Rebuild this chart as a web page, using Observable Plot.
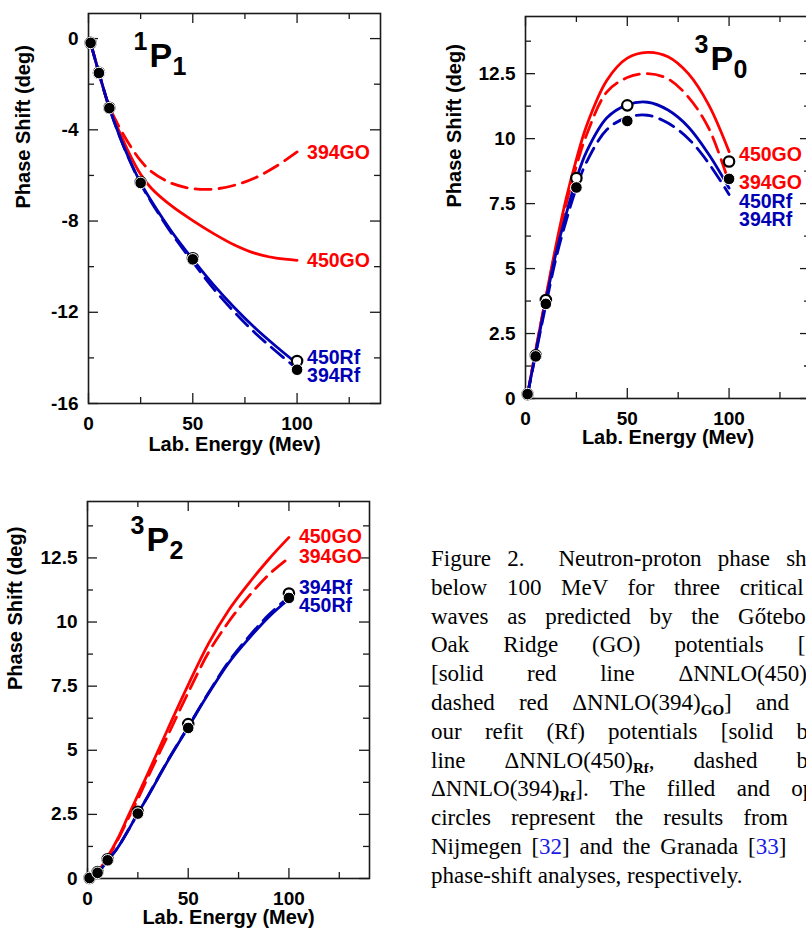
<!DOCTYPE html>
<html><head><meta charset="utf-8">
<script src="https://cdn.jsdelivr.net/npm/d3@7"></script>
<script src="https://cdn.jsdelivr.net/npm/@observablehq/plot@0.6"></script>
<style>
html,body{margin:0;padding:0;background:#fff;}
#page{position:relative;width:806px;height:932px;overflow:hidden;background:#fff;}
.panel{position:absolute;}
.panel svg{overflow:visible;max-width:none !important;}
#caption{position:absolute;left:431px;top:545px;font-family:"Liberation Serif","Times New Roman",serif;font-size:23px;line-height:28.8px;color:#000;}
#caption .ln{width:405px;text-align:justify;text-align-last:justify;}
#caption .last{text-align:left;text-align-last:left;}
#caption .nl{text-align:left;text-align-last:left;word-spacing:4px;}
#caption sub{font-size:15px;font-weight:bold;vertical-align:-5px;line-height:0;}
#caption .c{color:#1a1ae6;}
#caption .gap{display:inline-block;width:18px;}
</style></head><body>
<div id="page">
  <div id="p1" class="panel" style="left:0;top:0"></div>
  <div id="p2" class="panel" style="left:400px;top:0;width:430px"></div>
  <div id="p3" class="panel" style="left:0;top:470px"></div>
  <div id="caption">
    <div class="ln">Figure 2.<span class="gap"></span> Neutron-proton phase shifts</div>
    <div class="ln">below 100 MeV for three critical P</div>
    <div class="ln">waves as predicted by the Gőteborg–</div>
    <div class="ln">Oak Ridge (GO) potentials [30]</div>
    <div class="ln">[solid red line ΔNNLO(450)<sub>GO</sub>,</div>
    <div class="ln">dashed red ΔNNLO(394)<sub>GO</sub>] and by</div>
    <div class="ln">our refit (Rf) potentials [solid blue</div>
    <div class="ln">line ΔNNLO(450)<sub>Rf</sub>, dashed blue</div>
    <div class="ln">ΔNNLO(394)<sub>Rf</sub>]. The filled and open</div>
    <div class="ln">circles represent the results from the</div>
    <div class="ln nl">Nijmegen [<span class="c">32</span>] and the Granada [<span class="c">33</span>]</div>
    <div class="ln last">phase-shift analyses, respectively.</div>
  </div>
</div>
<script>
// ---------- data ----------
const energies = [1, 5, 10, 15, 20, 25, 30, 40, 50, 60, 70, 80, 90, 100];
const pointEnergies = [1, 5, 10, 25, 50, 100];
const seriesNames = ["450GO", "394GO", "450Rf", "394Rf"];

// 1P1
const p1_450GO = [-0.19, -1.5, -3.03, -4.12, -5.12, -5.95, -6.55, -7.35, -7.98, -8.55, -9.05, -9.42, -9.63, -9.72];
const p1_394GO = [-0.19, -1.5, -2.98, -3.92, -4.7, -5.35, -5.82, -6.35, -6.58, -6.6, -6.43, -6.1, -5.6, -4.97];
const p1_450Rf = [-0.19, -1.5, -3.04, -4.3, -5.38, -6.33, -7.1, -8.48, -9.68, -10.8, -11.8, -12.7, -13.5, -14.25];
const p1_394Rf = [-0.19, -1.5, -3.04, -4.3, -5.4, -6.36, -7.15, -8.56, -9.8, -10.97, -12.0, -12.92, -13.72, -14.48];
const p1_nijmegen = [-0.19, -1.51, -3.05, -6.33, -9.68, -14.52];
const p1_granada = [-0.19, -1.5, -3.03, -6.3, -9.63, -14.14];
const p1_labels = ["394GO", "450GO", "450Rf", "394Rf"];
const p1_labelY = [-5.0, -9.72, -14.0, -14.8];
const p1_yMajor = [0, -4, -8, -12, -16];
const p1_yMinor = [-2, -6, -10, -14];

// 3P0
const p2_450GO = [0.15, 1.85, 3.9, 5.9, 7.7, 9.2, 10.5, 12.25, 13.1, 13.32, 13.15, 12.5, 11.3, 9.5];
const p2_394GO = [0.15, 1.85, 3.85, 5.8, 7.5, 8.95, 10.15, 11.8, 12.35, 12.5, 12.3, 11.6, 10.4, 8.3];
const p2_450Rf = [0.15, 1.75, 3.75, 5.6, 7.1, 8.45, 9.5, 10.8, 11.3, 11.4, 11.1, 10.45, 9.4, 8.1];
const p2_394Rf = [0.15, 1.7, 3.6, 5.4, 6.85, 8.1, 9.1, 10.35, 10.82, 10.9, 10.6, 10.0, 9.05, 7.85];
const p2_nijmegen = [0.17, 1.62, 3.64, 8.12, 10.68, 8.45];
const p2_granada = [0.17, 1.66, 3.79, 8.48, 11.28, 9.12];
const p2_labels = ["450GO", "394GO", "450Rf", "394Rf"];
const p2_labelY = [9.39, 8.29, 7.58, 6.89];

// 3P2
const p3_450GO = [0.02, 0.25, 0.85, 1.55, 2.4, 3.25, 4.1, 5.85, 7.55, 9.15, 10.45, 11.5, 12.45, 13.3];
const p3_394GO = [0.02, 0.25, 0.8, 1.5, 2.3, 3.1, 3.95, 5.6, 7.25, 8.8, 10.0, 11.0, 11.85, 12.5];
const p3_450Rf = [0.02, 0.22, 0.7, 1.2, 1.85, 2.55, 3.2, 4.6, 5.9, 7.2, 8.4, 9.35, 10.2, 10.9];
const p3_394Rf = [0.02, 0.22, 0.7, 1.2, 1.85, 2.55, 3.22, 4.62, 5.92, 7.23, 8.44, 9.42, 10.28, 10.98];
const p3_nijmegen = [0.02, 0.22, 0.71, 2.53, 5.87, 10.94];
const p3_granada = [0.02, 0.25, 0.75, 2.6, 6.02, 11.11];
const p3_labels = ["450GO", "394GO", "394Rf", "450Rf"];
const p3_labelY = [13.32, 12.54, 11.34, 10.63];

const pos_yMajor = [0, 2.5, 5, 7.5, 10, 12.5];
const pos_yMinor = [1.25, 3.75, 6.25, 8.75, 11.25, 13.75];
const xMajor = [0, 50, 100];
const xMinor = [25, 75, 125];
const xTitle = "Lab. Energy (Mev)";
const yTitle = "Phase Shift (deg)";

// ---------- styling ----------
const RED = "#ff0000", BLUE = "#0000b4", INK = "#1a1a1a";
const colorOf = n => n.endsWith("GO") ? RED : BLUE;
const dashOf = n => n.startsWith("394") ? "16,8" : null;
const FONT = "'Liberation Sans', Arial, Helvetica, sans-serif";

function frameTicks(fw, fh, yMaj, yMin) {
  const L = 10, l = 6, o = {stroke: INK, strokeWidth: 1.3};
  return [
    Plot.tickX(xMajor, {x: d => d, insetTop: fh - L, ...o}),
    Plot.tickX(xMajor, {x: d => d, insetBottom: fh - L, ...o}),
    Plot.tickX(xMinor, {x: d => d, insetTop: fh - l, ...o}),
    Plot.tickX(xMinor, {x: d => d, insetBottom: fh - l, ...o}),
    Plot.tickY(yMaj, {y: d => d, insetRight: fw - L, ...o}),
    Plot.tickY(yMaj, {y: d => d, insetLeft: fw - L, ...o}),
    Plot.tickY(yMin, {y: d => d, insetRight: fw - l, ...o}),
    Plot.tickY(yMin, {y: d => d, insetLeft: fw - l, ...o})
  ];
}

function panel(cfg) {
  const {el, width, height, m, yDomain, yMaj, yMin, series, nijm, gran, labels, labelY,
         xLabelDy, yLabelDx, title} = cfg;
  const fw = width - m.left - m.right, fh = height - m.top - m.bottom;
  const lineMarks = seriesNames.map((name, k) => Plot.line(
    energies.map((e, i) => ({E: e, v: series[k][i]})),
    {x: "E", y: "v", stroke: colorOf(name), strokeWidth: 2.8, strokeDasharray: dashOf(name),
     curve: "catmull-rom"}));
  const pts = vals => pointEnergies.map((e, i) => ({E: e, v: vals[i]}));
  const lab = labels.map((l, i) => ({l, y: labelY[i]}));
  const labelMark = color => Plot.text(lab.filter(d => colorOf(d.l) === color),
    {x: () => 100, y: "y", text: "l", dx: 10, fill: color, textAnchor: "start",
     fontSize: 19.5, fontWeight: "bold"});
  const tt = (txt, dx, dy, size) => Plot.text([txt], {frameAnchor: "top-left", dx, dy, text: d => d,
     textAnchor: "start", lineAnchor: "bottom", fontSize: size, fontWeight: "bold", fill: "#000"});
  const plot = Plot.plot({
    width, height,
    marginTop: m.top, marginRight: m.right, marginBottom: m.bottom, marginLeft: m.left,
    x: {domain: [0, 140]},
    y: {domain: yDomain},
    style: {fontFamily: FONT, fontWeight: "bold", fontSize: "19px", color: "#000", background: "transparent",
            overflow: "visible", maxWidth: "none"},
    marks: [
      ...frameTicks(fw, fh, yMaj, yMin),
      Plot.axisX({ticks: xMajor, tickSize: 0, tickPadding: 13, tickFormat: d => String(d), label: null}),
      Plot.axisY({ticks: yMaj, tickSize: 0, tickPadding: 10, tickFormat: d => String(d), label: null}),
      Plot.frame({stroke: INK, strokeWidth: 1.6}),
      lineMarks[0], lineMarks[1], lineMarks[2], lineMarks[3],
      Plot.dot(pts(gran), {x: "E", y: "v", r: 5.2, fill: "white", stroke: "black", strokeWidth: 2.2}),
      Plot.dot(pts(nijm), {x: "E", y: "v", r: 5.8, fill: "black", stroke: "white", strokeWidth: 1}),
      labelMark(RED), labelMark(BLUE),
      Plot.text([xTitle], {frameAnchor: "bottom", dy: xLabelDy, text: d => d, fontSize: 20, fontWeight: "bold"}),
      Plot.text([yTitle], {frameAnchor: "left", dx: yLabelDx, rotate: -90, text: d => d, fontSize: 20, fontWeight: "bold"}),
      tt(title.sup, title.x - 16, title.y - 17, 25),
      tt("P", title.x, title.y, 34),
      tt(title.sub, title.x + 23, title.y + 8, 25)
    ]
  });
  document.getElementById(el).appendChild(plot);
}

panel({el: "p1", width: 400, height: 470, m: {top: 13, right: 20, bottom: 67, left: 88},
  yDomain: [-16, 1.1], yMaj: p1_yMajor, yMin: p1_yMinor,
  series: [p1_450GO, p1_394GO, p1_450Rf, p1_394Rf], nijm: p1_nijmegen, gran: p1_granada,
  labels: p1_labels, labelY: p1_labelY, xLabelDy: 47, yLabelDx: -65,
  title: {sup: "1", sub: "1", x: 61, y: 53}});

panel({el: "p2", width: 430, height: 470, m: {top: 16, right: 20, bottom: 72, left: 125},
  yDomain: [0, 14.7], yMaj: pos_yMajor, yMin: pos_yMinor,
  series: [p2_450GO, p2_394GO, p2_450Rf, p2_394Rf], nijm: p2_nijmegen, gran: p2_granada,
  labels: p2_labels, labelY: p2_labelY, xLabelDy: 45, yLabelDx: -71,
  title: {sup: "3", sub: "0", x: 185, y: 53}});

panel({el: "p3", width: 400, height: 462, m: {top: 31, right: 31, bottom: 54, left: 87},
  yDomain: [0, 14.7], yMaj: pos_yMajor, yMin: pos_yMinor,
  series: [p3_450GO, p3_394GO, p3_450Rf, p3_394Rf], nijm: p3_nijmegen, gran: p3_granada,
  labels: p3_labels, labelY: p3_labelY, xLabelDy: 45, yLabelDx: -72,
  title: {sup: "3", sub: "2", x: 59, y: 49}});
</script>
</body></html>
